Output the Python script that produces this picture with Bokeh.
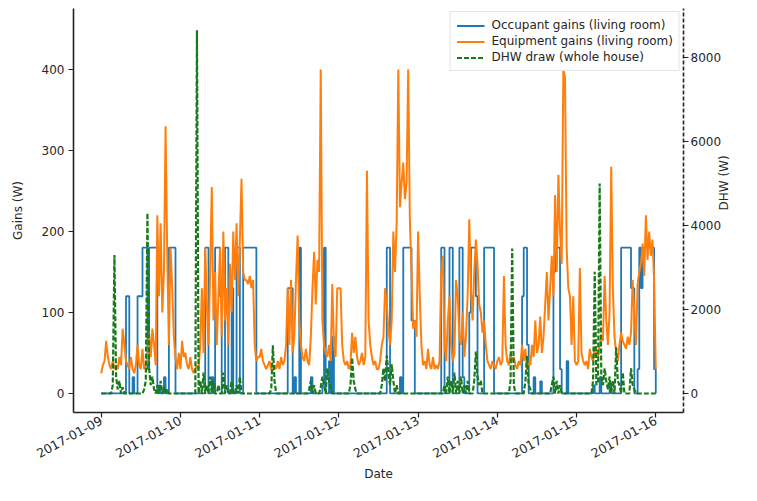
import math
import pandas as pd
from bokeh.plotting import figure
from bokeh.models import (Range1d, LinearAxis, FixedTicker, DatetimeTickFormatter,
                          Legend, LegendItem, ColumnDataSource)
from bokeh.embed import file_html
from bokeh.resources import INLINE

# ---------------- data (30-minute samples, one row per day) ----------------
start_date = "2017-01-09 00:00"
tick_dates = ["2017-01-09", "2017-01-10", "2017-01-11", "2017-01-12",
              "2017-01-13", "2017-01-14", "2017-01-15", "2017-01-16"]
left_ticks = [0, 100, 200, 300, 400]
right_ticks = [0, 2000, 4000, 6000, 8000]

occupant_days = [
    [0,0,0,0,0,0,0,0,0,0, 0,0,0,0,0,120,120,0,0,20, 0,0,120,120,120,180,180,180,30,180,
     180,180,180,180,0,10,0,0,20,0, 0,180,180,180,180,0,0,0],
    [0,0,0,0,0,0,0,0,0,0, 0,0,0,0,0,180,180,0,0,20, 0,180,180,180,120,0,0,180,180,0,
     0,130,0,0,180,180,0,0,180,180, 180,180,180,180,180,180,0,0],
    [0,0,0,0,0,0,0,0,0,0, 0,0,0,0,0,0,0,130,130,130, 0,20,0,0,180,0,0,0,0,0,
     0,20,0,0,0,0,0,0,10,180, 0,0,40,0,70,0,0,0],
    [0,0,0,0,0,0,0,0,0,0, 0,0,0,0,0,0,0,0,0,0, 0,0,0,0,0,0,0,0,0,180,
     180,0,0,0,0,0,0,20,0,180, 180,180,180,180,90,90,0,0],
    [0,0,0,0,0,0,0,0,0,0, 0,0,0,0,180,180,0,0,0,180, 180,0,0,0,0,180,180,20,0,0,
     0,100,180,180,180,120,0,0,0,0, 180,180,180,180,180,180,0,0],
    [0,0,0,0,0,0,0,0,0,0, 0,0,0,0,0,120,180,180,60,0, 0,0,20,0,0,0,15,0,0,0,
     0,0,0,0,150,180,180,180,30,0, 0,0,40,0,0,0,0,0],
    [0,0,0,0,0,0,0,0,0,0, 10,0,0,0,20,0,0,0,0,0, 10,0,0,0,0,0,0,180,180,180,
     180,180,180,130,130,0,0,30,180,130, 180,180,180,180,180,180,180,30],
]
occupant_end = 0

equipment_days = [
    [25,35,40,65,45,35,30,40,30,35, 30,45,35,80,60,40,35,30,45,30, 25,35,60,35,30,55,30,35,40,75,
     45,80,60,35,220,120,210,100,150,330, 170,60,180,130,70,45,30,50],
    [30,65,45,50,35,30,45,30,25,30, 35,30,60,130,50,180,110,60,150,255, 90,150,60,120,180,70,200,90,130,60,
     160,100,200,140,210,120,190,265,150,140, 140,135,145,130,140,60,40,45],
    [45,55,40,35,30,35,40,30,28,35, 30,40,30,45,35,40,60,130,60,140, 50,70,140,195,90,60,45,40,55,40,
     35,70,130,175,110,165,150,400,90,60, 50,45,60,40,135,60,45,130],
    [130,130,60,40,35,40,30,35,75,50, 70,45,35,40,50,35,45,275,90,60, 45,35,40,30,30,40,60,70,130,110,
     80,60,90,200,150,210,400,230,260,285, 240,260,400,215,150,80,90,70],
    [200,120,60,35,40,30,55,35,30,45, 30,35,30,40,150,170,60,40,90,120, 60,40,50,140,120,70,60,100,45,70,
     120,215,130,90,150,190,160,110,100,75, 90,60,40,35,30,40,35,30],
    [40,45,35,40,145,60,40,35,50,40, 45,35,30,40,35,60,40,55,30,40, 35,60,45,90,50,60,95,50,70,110,
     150,90,130,170,120,245,150,270,200,160, 400,390,180,130,120,60,120,40],
    [35,40,155,50,40,35,40,30,55,45, 40,55,50,45,60,70,65,145,90,60, 100,280,130,70,50,40,60,75,65,60,
     55,70,60,75,140,100,60,135,150,160, 185,145,220,165,200,170,190,140],
]
equipment_end = 30

dhw_days = [
    [0,0,0,0,0,0,0,200,3300,400, 100,300,0,150,0,0,0,0,0,0, 0,0,0,0,0,0,100,300,4300,600,
     200,400,100,0,200,0,300,0,150,0, 100,0,0,0,0,0,0,0],
    [0,0,0,0,0,0,0,0,0,0, 8650,0,300,0,500,0,200,0,400,0, 300,0,0,200,0,0,500,0,200,0,
     0,300,0,0,200,0,400,0,0,0, 0,0,0,0,0,0,0,0],
    [0,0,0,0,0,0,0,100,1150,300, 0,0,0,0,0,0,0,0,0,0, 0,0,0,0,0,0,0,0,0,0,
     100,300,0,200,0,0,0,150,400,200, 0,600,300,150,0,0,0,0],
    [0,0,0,0,0,0,0,200,850,300, 100,0,0,0,0,0,0,0,0,0, 0,0,0,0,0,0,200,600,300,900,
     500,200,700,300,0,200,0,0,0,0, 0,0,0,0,0,0,0,0],
    [0,0,0,0,0,0,0,0,0,0, 0,0,0,0,0,0,200,0,400,0, 300,0,500,0,300,0,400,0,200,0,
     300,0,0,0,300,1000,400,200,300,0, 0,0,0,0,0,0,0,0],
    [0,0,0,0,0,0,0,0,300,3450, 200,0,0,0,0,0,0,300,900,200, 100,0,0,0,0,0,0,0,0,0,
     0,0,0,200,400,0,300,0,200,0, 0,0,0,0,0,0,0,0],
    [0,0,0,0,0,0,0,0,0,0, 300,2900,200,300,5000,400,200,600,300,100, 400,0,300,0,1100,300,200,0,500,0,
     0,0,0,600,200,100,0,0,0,0, 0,0,0,0,0,0,0,0],
]
dhw_end = 0

# ---------------- assemble ----------------
occupant = [v for day in occupant_days for v in day] + [occupant_end]
equipment = [v for day in equipment_days for v in day] + [equipment_end]
dhw = [v for day in dhw_days for v in day] + [dhw_end]
times = pd.date_range(start_date, periods=len(occupant), freq="30min")
src = ColumnDataSource(dict(t=times, occ=occupant, eq=equipment, dhw=dhw))

t0 = pd.Timestamp(tick_dates[0])
t1 = pd.Timestamp(tick_dates[-1])
pad = pd.Timedelta(hours=8.4)

FONT = "DejaVu Sans"
TXT = "#262626"

p = figure(width=741, height=485, x_axis_type="datetime",
           output_backend="svg", toolbar_location=None,
           x_range=Range1d(t0 - pad, t1 + pad),
           y_range=Range1d(-23.5, 475.3),
           min_border_left=73, min_border_right=53,
           min_border_top=8, min_border_bottom=73)
p.outline_line_color = None
p.grid.visible = False
p.background_fill_color = "white"

p.extra_y_ranges = {"dhw": Range1d(-452, 9167)}
raxis = LinearAxis(y_range_name="dhw", axis_label="DHW (W)")
p.add_layout(raxis, "right")

r_occ = p.step("t", "occ", source=src, mode="after", line_color="#1f77b4", line_width=1.8)
r_eq = p.line("t", "eq", source=src, line_color="#ff7f0e", line_width=2.0)
r_dhw = p.line("t", "dhw", source=src, y_range_name="dhw", line_color="#1a7a1a",
               line_width=2.2, line_dash="5 2")

xa = p.xaxis[0]
ya = p.yaxis[0]
xa.ticker = FixedTicker(ticks=[pd.Timestamp(d).value // 10**6 for d in tick_dates])
fmt = "%Y-%m-%d"
xa.formatter = DatetimeTickFormatter(days=fmt, hours=fmt, months=fmt, hourmin=fmt,
                                     minutes=fmt, years=fmt)
xa.major_label_orientation = 0.5
xa.axis_label = "Date"
ya.axis_label = "Gains (W)"
ya.ticker = FixedTicker(ticks=left_ticks)
raxis.ticker = FixedTicker(ticks=right_ticks)

for ax in (xa, ya, raxis):
    ax.axis_line_color = "#222222"
    ax.axis_line_width = 1.6
    ax.major_tick_line_color = "#222222"
    ax.major_tick_line_width = 1.2
    ax.major_tick_out = 5
    ax.major_tick_in = 0
    ax.minor_tick_line_color = None
    ax.major_label_text_font = FONT
    ax.major_label_text_font_size = "12px"
    ax.major_label_text_color = TXT
    ax.major_label_standoff = 4
    ax.axis_label_text_font = FONT
    ax.axis_label_text_font_size = "12px"
    ax.axis_label_text_font_style = "normal"
    ax.axis_label_text_color = TXT
xa.major_label_text_font_size = "12.5px"
xa.major_label_standoff = 2
xa.axis_label_standoff = 2
raxis.axis_line_dash = "4 2"
raxis.axis_label_orientation = math.pi / 2
raxis.major_label_standoff = 2
raxis.axis_label_standoff = 0
ya.axis_label_standoff = 14

legend = Legend(items=[
    LegendItem(label="Occupant gains (living room)", renderers=[r_occ]),
    LegendItem(label="Equipment gains (living room)", renderers=[r_eq]),
    LegendItem(label="DHW draw (whole house)", renderers=[r_dhw]),
], location="top_right")
legend.label_text_font = FONT
legend.label_text_font_size = "12px"
legend.label_text_color = TXT
legend.glyph_width = 28
legend.glyph_height = 13
legend.label_height = 13
legend.label_standoff = 7
legend.spacing = 2
legend.padding = 6
legend.margin = 3
legend.border_line_color = "#cccccc"
legend.border_line_width = 1
legend.background_fill_alpha = 0.85
p.add_layout(legend)

open("out.html", "w").write(file_html(p, INLINE))
